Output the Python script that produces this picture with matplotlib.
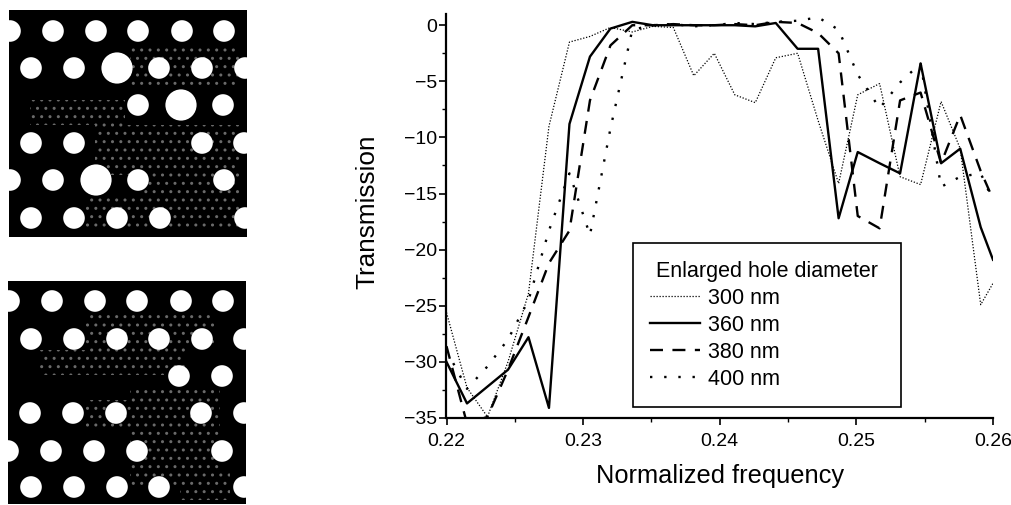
import numpy as np
import matplotlib
matplotlib.use('Agg')
import matplotlib.pyplot as plt
from matplotlib.patches import Circle, Rectangle

plt.rcParams['font.family'] = ['Liberation Sans', 'DejaVu Sans']

##sampled frequencies, shared by all four curves
freq = [0.2200, 0.2215, 0.2230, 0.2245, 0.2260, 0.2275, 0.2290, 0.2305, 0.2320, 0.2336,
        0.2351, 0.2366, 0.2381, 0.2396, 0.2411, 0.2426, 0.2441, 0.2457, 0.2472, 0.2487,
        0.2501, 0.2517, 0.2532, 0.2547, 0.2562, 0.2576, 0.2591, 0.2600]
t300 = [-25.6, -32.3, -34.9, -30.0, -23.9, -9.0, -1.5, -1.0, -0.2, -0.6,
        -0.1, -0.2, -4.5, -2.5, -6.2, -6.9, -2.9, -2.5, -8.5, -14.1,
        -6.2, -5.2, -13.5, -14.2, -6.8, -11.0, -24.9, -23.0]
t360 = [-30.0, -33.7, -32.2, -30.7, -27.8, -34.1, -8.8, -2.8, -0.3, 0.3,
        0.0, 0.0, 0.0, 0.0, 0.0, -0.1, 0.2, -2.1, -2.1, -17.2,
        -11.3, -12.3, -13.2, -3.4, -12.3, -11.0, -18.0, -20.9]
t380 = [-28.6, -35.5, -34.9, -30.7, -26.0, -21.2, -18.3, -6.7, -1.8, 0.0,
        0.0, 0.1, 0.0, 0.0, 0.1, 0.0, 0.3, 0.2, -0.7, -2.5,
        -17.0, -18.1, -6.7, -6.0, -12.3, -8.0, -13.0, -15.5]
t400 = [-29.0, -32.4, -30.4, -28.0, -24.5, -18.3, -13.2, -18.7, -9.2, -0.4,
        0.0, 0.1, -0.1, 0.0, 0.2, 0.1, 0.3, 0.4, 0.7, -0.4,
        -4.4, -7.4, -5.1, -3.4, -14.4, -13.5, -13.2, -15.6]
sizes = ['300 nm', '360 nm', '380 nm', '400 nm']

##hole centres of the two micrographs, in pixels
top_x = [10, 53, 96, 138, 182, 224, 31, 74, 159, 202, 245, 138, 223, 31, 74, 202, 244, 10, 53, 138, 224, 31, 74, 117, 160, 245]
top_y = [31, 31, 31, 31, 31, 31, 68, 68, 68, 68, 68, 105, 105, 143, 143, 143, 143, 180, 180, 180, 180, 218, 218, 218, 218, 218]
big_x = [117, 181, 96]
big_y = [68, 105, 180]
low_x = [9, 52, 95, 137, 181, 223, 31, 74, 117, 159, 202, 244, 179, 222, 30, 73, 116, 201, 244, 8, 51, 94, 137, 222, 31, 74, 117, 159, 244]
low_y = [301, 301, 301, 301, 301, 301, 339, 339, 339, 339, 339, 339, 376, 376, 413, 413, 413, 413, 413, 451, 451, 451, 451, 451, 487, 487, 487, 487, 487]

fig = plt.figure(figsize=(10.12, 5.05), dpi=100)

##micrographs
pic = fig.add_axes([0, 0, 1, 1])
pic.set_xlim(0, 1012)
pic.set_ylim(505, 0)
pic.axis('off')

def panel(x0, y0, x1, y1, xs, ys, bx, by, grainy):
    box = Rectangle((x0, y0), x1 - x0, y1 - y0, fc='k', ec='none')
    pic.add_patch(box)
    for g in grainy:
        pic.add_patch(Rectangle((g[0], g[1]), g[2], g[3], fc='k', ec='#6a6a6a', hatch='..', lw=0, clip_path=box))
    for ii in range(len(xs)):
        pic.add_patch(Circle((xs[ii], ys[ii]), 10.8, fc='w', ec='none', clip_path=box))
    for ii in range(len(bx)):
        pic.add_patch(Circle((bx[ii], by[ii]), 15.6, fc='w', ec='none', clip_path=box))

panel(9, 10, 247, 237, top_x, top_y, big_x, big_y,
      [(130, 45, 110, 40), (30, 100, 95, 25), (95, 125, 145, 50), (140, 170, 100, 60), (85, 195, 60, 35)])
panel(8, 281, 246, 504, low_x, low_y, [], [],
      [(85, 310, 130, 35), (40, 350, 130, 25), (85, 345, 100, 30), (130, 385, 90, 100), (85, 400, 45, 30), (180, 470, 50, 30)])

##transmission spectra
ax = fig.add_axes([446.5 / 1012, 1 - 418 / 505, 546.5 / 1012, 404 / 505])
ax.patch.set_alpha(0)
ax.plot(freq, t300, color='k', lw=0.9, ls=(0, (1, 1.4)), label=sizes[0])
ax.plot(freq, t360, color='k', lw=1.7, ls='-', label=sizes[1])
ax.plot(freq, t380, color='k', lw=1.7, ls=(0, (5.5, 4)), label=sizes[2])
ax.plot(freq, t400, color='k', lw=1.7, ls=(0, (1, 5)), label=sizes[3])
ax.set_xlim(0.22, 0.26)
ax.set_ylim(-35, 1)
ax.set_xticks([0.22, 0.23, 0.24, 0.25, 0.26])
ax.set_xticklabels(['0.22', '0.23', '0.24', '0.25', '0.26'])
ax.set_xticks([0.225, 0.235, 0.245, 0.255], minor=True)
ax.set_yticks([0, -5, -10, -15, -20, -25, -30, -35])
ax.set_yticks([-2.5, -7.5, -12.5, -17.5, -22.5, -27.5, -32.5], minor=True)
ax.tick_params(which='major', length=5, width=1.2, labelsize=14, pad=2)
ax.tick_params(axis='x', which='major', pad=6)
ax.tick_params(which='minor', length=3, width=1.0)
ax.spines['top'].set_visible(False)
ax.spines['right'].set_visible(False)
ax.spines['left'].set_linewidth(1.6)
ax.spines['bottom'].set_linewidth(1.6)
ax.set_xlabel('Normalized frequency', fontsize=18.3)
ax.set_ylabel('Transmission', fontsize=18.8)
ax.xaxis.set_label_coords(0.5, -0.115)
ax.yaxis.set_label_coords(-0.122, 0.51)

leg = ax.legend(title='Enlarged hole diameter', loc='lower left',
                bbox_to_anchor=((633 - 446.5) / 546.5, (418 - 407) / 404, (901 - 633) / 546.5, (407 - 243) / 404),
                mode='expand', borderaxespad=0, fancybox=False, framealpha=1, edgecolor='k',
                fontsize=15.5, title_fontsize=15.5, labelspacing=0.28, handlelength=2.3, handletextpad=0.4,
                borderpad=0.8)
leg.get_frame().set_linewidth(1.2)

plt.savefig('out.png', dpi=100)
